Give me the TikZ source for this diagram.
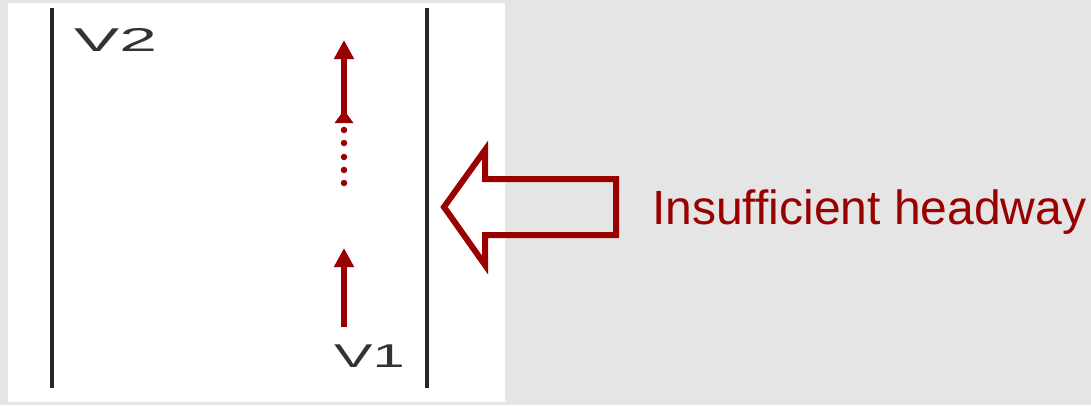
\documentclass[tikz,border=0pt]{standalone}
\usepackage{fontspec}
\setmainfont{Liberation Sans}
\usetikzlibrary{arrows.meta}
\definecolor{dred}{RGB}{153,0,0}
\definecolor{bgray}{RGB}{229,229,229}
\tikzset{
  lane/.style={line width=3.2pt, black!85},
  uparrow/.style={dred, line width=6pt, -{Triangle[width=19pt,length=19pt]}},
  dotmark/.style={circle, fill=dred, inner sep=0pt, minimum size=6.5pt},
  vlabel/.style={inner sep=0pt, text=black!80, font=\fontsize{33}{33}\selectfont},
  bigarrow/.style={draw=dred, line width=6pt, line join=miter},
}
\begin{document}
\begin{tikzpicture}[x=1pt,y=-1pt]
\fill[bgray] (0,0) rectangle (1091,405);
\useasboundingbox (0,0) rectangle (1091,405);
\fill[white] (8,3) rectangle (505,402);
% lane lines
\coordinate (l1) at (52,8); \coordinate (l2) at (52,388);
\coordinate (r1) at (427,8); \coordinate (r2) at (427,388);
\draw[lane] (l1) -- (l2);
\draw[lane] (r1) -- (r2);
% labels
\node[vlabel, anchor=west] (v2) at (74,40) {\scalebox{2.05}[1]{V2}};
\node[vlabel, anchor=west] (v1) at (334,356) {\scalebox{1.75}[1]{V1}};
% top arrow
\coordinate (a1s) at (344,121); \coordinate (a1e) at (344,40);
\draw[uparrow] (a1s) -- (a1e);
\fill[dred] (334.5,123) -- (353.5,123) -- (344,110) -- cycle;
% dots
\foreach \i/\y in {1/130,2/143,3/157,4/170,5/183} \node[dotmark] (d\i) at (344,\y) {};
% bottom arrow
\coordinate (a2s) at (344,327); \coordinate (a2e) at (344,248);
\draw[uparrow] (a2s) -- (a2e);
% big hollow arrow
\draw[bigarrow] (444,207) -- (485,150) -- (485,179) -- (616,179) -- (616,235) -- (485,235) -- (485,265) -- cycle;
\node[anchor=west, text=dred, inner sep=0pt, font=\fontsize{48}{48}\selectfont] (lbl) at (652,212) {Insufficient headway};
\end{tikzpicture}
\end{document}
